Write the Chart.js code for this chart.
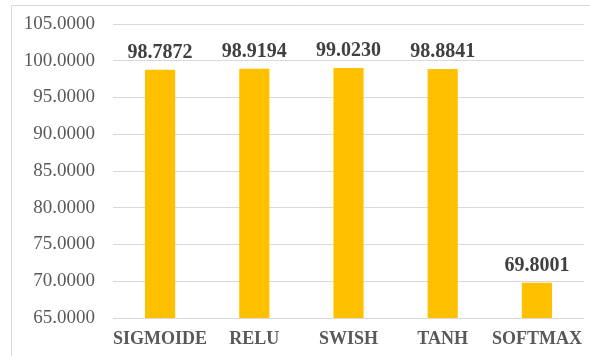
<!DOCTYPE html>
<html>
<head>
<meta charset="utf-8">
<script src="https://cdn.jsdelivr.net/npm/chart.js@4/dist/chart.umd.min.js"></script>
<style>
  html, body { margin: 0; padding: 0; background: #ffffff; }
  #wrap { width: 590px; height: 356px; position: relative; }
</style>
</head>
<body>
<div id="wrap"><canvas id="chart" width="590" height="356"></canvas></div>
<script>
// Activation functions and their accuracy scores
const categories = ['SIGMOIDE', 'RELU', 'SWISH', 'TANH', 'SOFTMAX'];
const accuracy = [98.7872, 98.9194, 99.0230, 98.8841, 69.8001];
const yMin = 65;
const yMax = 105;
const yStep = 5;

const SERIF = '"Liberation Serif", "Times New Roman", serif';

// Frame lines along the top and left edge of the figure
const framePlugin = {
  id: 'frame',
  beforeDraw(chart) {
    const ctx = chart.ctx;
    ctx.save();
    ctx.strokeStyle = '#d9d9d9';
    ctx.lineWidth = 1;
    ctx.beginPath();
    ctx.moveTo(11.5, 356);
    ctx.lineTo(11.5, 5.5);
    ctx.lineTo(590, 5.5);
    ctx.stroke();
    ctx.restore();
  }
};

// Value labels above each bar
const valueLabels = {
  id: 'valueLabels',
  afterDatasetsDraw(chart) {
    const ctx = chart.ctx;
    const meta = chart.getDatasetMeta(0);
    ctx.save();
    ctx.font = 'bold 20px ' + SERIF;
    ctx.fillStyle = '#404040';
    ctx.textAlign = 'center';
    ctx.textBaseline = 'middle';
    meta.data.forEach((bar, i) => {
      ctx.fillText(accuracy[i].toFixed(4), bar.x, bar.y - 17);
    });
    ctx.restore();
  }
};

new Chart(document.getElementById('chart'), {
  type: 'bar',
  data: {
    labels: categories,
    datasets: [{
      data: accuracy,
      backgroundColor: '#FFC000',
      borderWidth: 0,
      barPercentage: 0.32,
      categoryPercentage: 1
    }]
  },
  options: {
    responsive: false,
    animation: false,
    layout: { padding: { top: 24, right: 6, bottom: 0, left: 0 } },
    plugins: {
      legend: { display: false },
      tooltip: { enabled: false }
    },
    scales: {
      x: {
        afterFit(scale) {
          scale.height = 38;
          scale.paddingLeft = 0;
          scale.paddingRight = 0;
        },
        grid: { display: false, drawTicks: false },
        border: { display: false },
        ticks: {
          padding: 11,
          color: '#595959',
          font: { family: SERIF, size: 18, weight: 'bold' },
          maxRotation: 0,
          autoSkip: false
        }
      },
      y: {
        min: yMin,
        max: yMax,
        afterFit(scale) {
          scale.width = 113;
          scale.paddingTop = 0;
          scale.paddingBottom = 0;
        },
        grid: { color: '#d9d9d9', lineWidth: 1, drawTicks: false },
        border: { display: false },
        ticks: {
          stepSize: yStep,
          padding: 18,
          color: '#595959',
          font: { family: SERIF, size: 19 },
          callback: (v) => Number(v).toFixed(4)
        }
      }
    }
  },
  plugins: [framePlugin, valueLabels]
});
</script>
</body>
</html>
